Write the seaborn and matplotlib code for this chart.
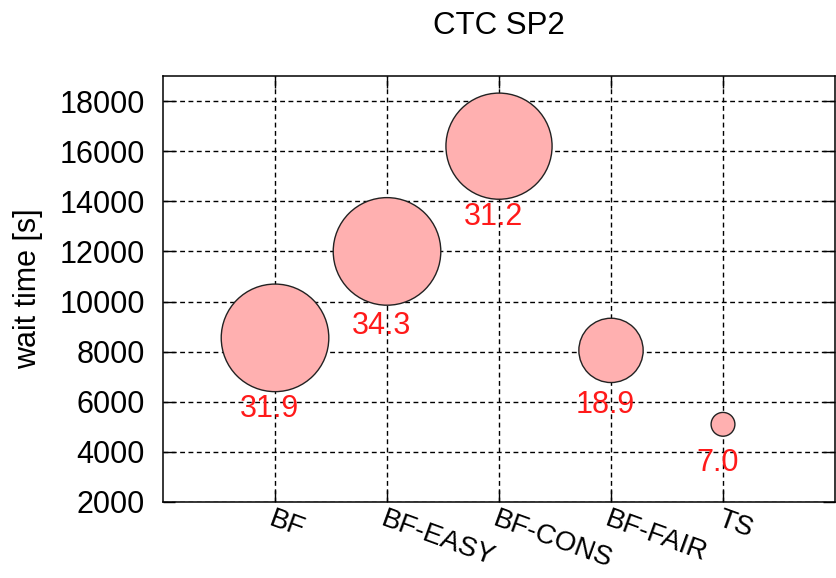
import matplotlib
matplotlib.use("Agg")
import matplotlib.pyplot as plt
import seaborn as sns
import pandas as pd

# scheduling policies and their mean wait times (CTC SP2 trace)
policies = ["BF", "BF-EASY", "BF-CONS", "BF-FAIR", "TS"]
wait_time = [8550, 12000, 16200, 8050, 5100]
# value shown under each bubble; bubble radius scales with it
bubble_value = [31.9, 34.3, 31.2, 18.9, 7.0]
y_ticks = [2000, 4000, 6000, 8000, 10000, 12000, 14000, 16000, 18000]

df = pd.DataFrame({
    "policy": policies,
    "wait": wait_time,
    "value": bubble_value,
})
# marker area grows with the square of the value so the radius is linear
df["area"] = df["value"] ** 2

sns.set_style("ticks")
plt.rcParams["font.family"] = ["Liberation Sans", "DejaVu Sans"]
plt.rcParams["text.color"] = "black"
plt.rcParams["axes.labelcolor"] = "black"
plt.rcParams["xtick.color"] = "black"
plt.rcParams["ytick.color"] = "black"

fig = plt.figure(figsize=(8.36, 5.78), dpi=100)
ax = fig.add_axes([0.195, 0.1315, 0.8038, 0.737])

sns.scatterplot(
    data=df, x="policy", y="wait", size="area",
    sizes=(0, 6000), size_norm=(0, 1000),
    color="#ffb0b0", edgecolor="#222222", linewidth=1.0,
    alpha=1.0, legend=False, ax=ax, zorder=3,
)

for i, row in df.iterrows():
    r_pt = 1.2247 * row["value"]
    ax.annotate(
        f"{row['value']:.1f}", xy=(i, row["wait"]),
        xytext=(-4, -(0.78 * r_pt + 21)), textcoords="offset points",
        ha="center", va="center", color="#ff1a1a", fontsize=22, zorder=4,
    )

ax.set_xlim(-1, 5)
ax.set_ylim(2000, 19000)
ax.set_yticks(y_ticks)
ax.set_xticks(range(len(policies)))
ax.set_xticklabels(policies)

ax.grid(True, color="black", linestyle=(0, (3.5, 2.5)), linewidth=1.0, zorder=1)
ax.set_axisbelow(True)

for side in ["top", "right", "bottom", "left"]:
    ax.spines[side].set_visible(True)
    ax.spines[side].set_color("black")
    ax.spines[side].set_linewidth(1.1)

ax.tick_params(axis="both", direction="in", length=8.5, width=1.0,
               color="black", top=True, right=True, labelsize=22)
ax.tick_params(axis="y", pad=13)
ax.tick_params(axis="x", pad=3)
for lbl in ax.get_xticklabels():
    lbl.set_rotation(-20)
    lbl.set_ha("left")
    lbl.set_va("top")
    lbl.set_rotation_mode("anchor")
    lbl.set_fontsize(20)

ax.set_xlabel("")
ax.set_ylabel("wait time [s]", fontsize=22, labelpad=12)
ax.set_title("CTC SP2", fontsize=22.5, pad=30)

fig.savefig("out.png", dpi=100)
